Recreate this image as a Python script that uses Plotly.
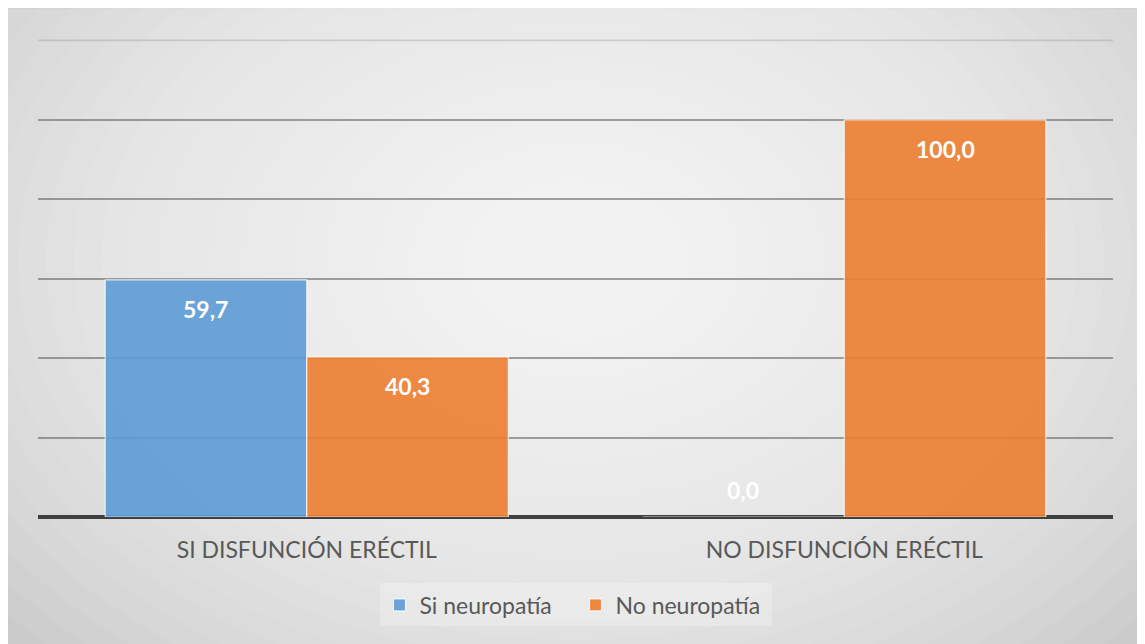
import plotly.graph_objects as go

categories = ["SI DISFUNCIÓN ERÉCTIL", "NO DISFUNCIÓN ERÉCTIL"]
si_neuropatia = [59.7, 0.0]
no_neuropatia = [40.3, 100.0]
series_names = ["Si neuropatía", "No neuropatía"]
label_texts_si = ["59,7", "0,0"]
label_texts_no = ["40,3", "100,0"]
grid_values = [20, 40, 60, 80, 100]
top_value = 120

# page has an 8px body margin; work in page pixels and convert
OFF = 8
W, H = 1145 - OFF, 644 - OFF
YMAX = 120.6
plot_left, plot_right = 38 - OFF, 1113 - OFF
y0_px = 517 - OFF           # value 0
y120_px = 40 - OFF          # value 120
ppu = (y0_px - y120_px) / 120.0
PH = ppu * YMAX
T = y0_px - PH
L, R, B = plot_left, W - plot_right, H - y0_px
PW = plot_right - plot_left


def px_x(p):
    return (p - OFF - L) / PW


def px_y(p):
    return (y0_px - (p - OFF)) / PH


fig = go.Figure()
fig.add_trace(go.Bar(
    x=categories, y=si_neuropatia, name=series_names[0],
    marker=dict(color="rgba(91,155,213,0.9)", line=dict(color="rgba(255,255,255,0.75)", width=1.2)),
))
fig.add_trace(go.Bar(
    x=categories, y=no_neuropatia, name=series_names[1],
    marker=dict(color="rgba(237,125,49,0.9)", line=dict(color="rgba(255,255,255,0.75)", width=1.2)),
))

shapes = []
shapes.append(dict(type="rect", xref="paper", yref="paper", layer="below",
                   x0=px_x(OFF - 1), x1=px_x(1150), y0=px_y(650), y1=px_y(OFF),
                   fillcolor="#c8c8c8", line=dict(color="#bdbdbd", width=1)))
N = 28
cx, cy = 575, 260
for i in range(N):
    f = 1 - i / N
    rx, ry = 780 * f, 560 * f
    shapes.append(dict(type="circle", xref="paper", yref="paper", layer="below",
                       x0=px_x(cx - rx), x1=px_x(cx + rx), y0=px_y(cy + ry), y1=px_y(cy - ry),
                       fillcolor="rgba(255,255,255,0.072)", line=dict(width=0)))
# lighter top gridline
shapes.append(dict(type="line", xref="paper", yref="y", layer="below",
                   x0=0, x1=1, y0=top_value, y1=top_value,
                   line=dict(color="rgba(150,150,150,0.35)", width=1.8)))

annotations = []
for vals, texts, shift in [(si_neuropatia, label_texts_si, -101), (no_neuropatia, label_texts_no, 101)]:
    for c, v, t in zip(categories, vals, texts):
        annotations.append(dict(x=c, y=v, text=t, showarrow=False, xshift=shift,
                                yshift=-29 if v > 5 else 27,
                                font=dict(family="Lato", size=23, color="white", weight="bold")))

fig.update_layout(
    width=W, height=H,
    margin=dict(l=L, r=R, t=T, b=B),
    paper_bgcolor="white",
    plot_bgcolor="rgba(0,0,0,0)",
    barmode="group", bargap=0.25, bargroupgap=0,
    shapes=shapes, annotations=annotations,
    font=dict(family="Lato", color="#595959"),
    xaxis=dict(showgrid=False, showline=False, ticks="", tickfont=dict(size=23, color="#595959"),
               ticklabelstandoff=17),
    yaxis=dict(range=[0, YMAX], tickvals=grid_values, showticklabels=False,
               showline=False, ticks="",
               gridcolor="rgba(105,105,105,0.62)", gridwidth=1.8,
               zeroline=True, zerolinecolor="#404040", zerolinewidth=3.5),
    legend=dict(orientation="h", x=0.5, xanchor="center", y=px_y(605), yanchor="middle",
                bgcolor="rgba(245,245,245,0.35)", font=dict(size=23, color="#595959"),
                entrywidth=151, traceorder="normal"),
    showlegend=True,
)

fig.write_html("out.html")
